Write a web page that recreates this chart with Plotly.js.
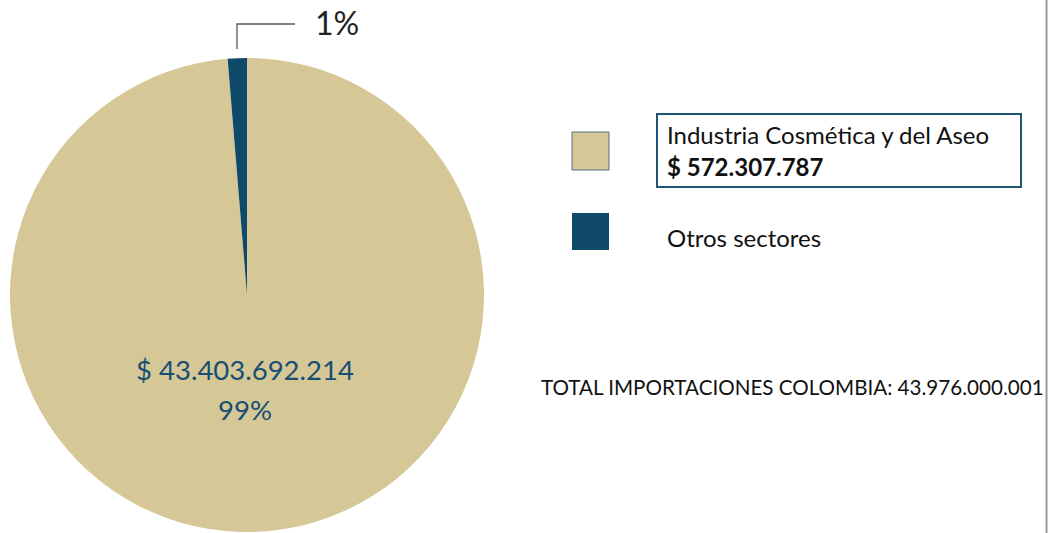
<!DOCTYPE html>
<html>
<head>
<meta charset="utf-8">
<script src="https://cdn.plot.ly/plotly-3.0.1.min.js"></script>
<style>
  html, body { margin: 0; padding: 0; background: #fff; }
  #chart { width: 1049px; height: 533px; }
</style>
</head>
<body>
<div id="chart"></div>
<script>
// data
const sectors = ["Otros sectores", "Industria Cosmética y del Aseo"];
const sliceValues = [43403692214, 572307787];
const sliceColors = ["#d6c796", "#0f4a6b"];
const legendLabels = ["Industria Cosmética y del Aseo", "Otros sectores"];
const legendColors = ["#d6c796", "#0f4a6b"];
const legendAmount = "$ 572.307.787";
const bigLabel = "$ 43.403.692.214";
const pctLabels = ["99%", "1%"];
const totalLabel = "TOTAL IMPORTACIONES COLOMBIA: 43.976.000.001";

const W = 1049, H = 533;
const px = (x) => x / W;
const py = (y) => 1 - y / H;

const pie = {
  type: "pie",
  labels: sectors,
  values: sliceValues,
  marker: { colors: sliceColors, line: { width: 0 } },
  sort: false,
  direction: "clockwise",
  rotation: 0,
  textinfo: "none",
  hoverinfo: "label+value+percent",
  showlegend: false,
  domain: { x: [px(10), px(484)], y: [py(532), py(58)] },
};

const font = "Lato, 'Open Sans', sans-serif";

const shapes = [
  // leader line for small slice
  { type: "path", xref: "paper", yref: "paper",
    path: `M ${px(237)} ${py(49)} L ${px(237)} ${py(24)} L ${px(295)} ${py(24)}`,
    line: { color: "#595959", width: 1.3 } },
  // legend swatches
  { type: "rect", xref: "paper", yref: "paper",
    x0: px(572), x1: px(609), y0: py(170), y1: py(132),
    fillcolor: legendColors[0], line: { color: "#4f7184", width: 1 } },
  { type: "rect", xref: "paper", yref: "paper",
    x0: px(572), x1: px(609), y0: py(250), y1: py(213),
    fillcolor: legendColors[1], line: { width: 0 } },
  // box around first legend label
  { type: "rect", xref: "paper", yref: "paper",
    x0: px(657), x1: px(1021), y0: py(187), y1: py(114),
    line: { color: "#1f5673", width: 2 } },
  // right border
  { type: "line", xref: "paper", yref: "paper",
    x0: px(1046.5), x1: px(1046.5), y0: 0, y1: 1,
    line: { color: "#9a9a9a", width: 2 } },
];

const ann = (x, y, text, size, color, extra) => Object.assign({
  xref: "paper", yref: "paper", x: px(x), y: py(y), text,
  showarrow: false, xanchor: "left", yanchor: "middle",
  font: { family: font, size, color },
}, extra || {});

const annotations = [
  ann(313, 22, pctLabels[1], 32, "#222"),
  ann(245, 369, bigLabel, 27.5, "#164f73", { xanchor: "center" }),
  ann(245, 409, pctLabels[0], 27.5, "#164f73", { xanchor: "center" }),
  ann(665, 134, legendLabels[0], 24, "#111"),
  ann(665, 166, "<b>" + legendAmount + "</b>", 24, "#111"),
  ann(665, 237, legendLabels[1], 24, "#111"),
  ann(539, 387, totalLabel, 20.6, "#111"),
];

const layout = {
  width: W, height: H,
  margin: { l: 0, r: 0, t: 0, b: 0 },
  paper_bgcolor: "#fff",
  plot_bgcolor: "#fff",
  shapes, annotations,
};

Plotly.newPlot("chart", [pie], layout, { displayModeBar: false, staticPlot: true });
</script>
</body>
</html>
